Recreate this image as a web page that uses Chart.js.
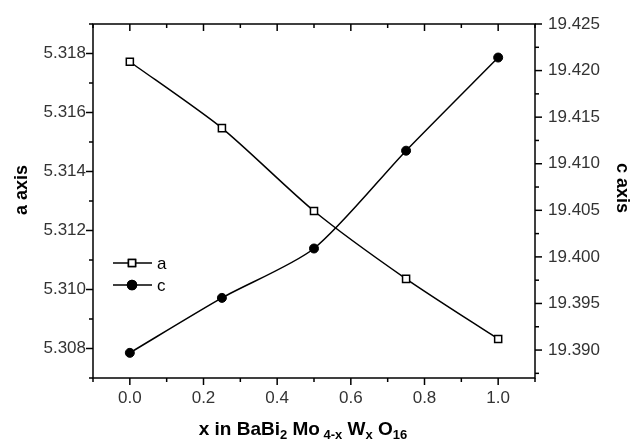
<!DOCTYPE html>
<html>
<head>
<meta charset="utf-8">
<script src="https://cdn.jsdelivr.net/npm/chart.js@4.4.0/dist/chart.umd.min.js"></script>
<style>
  html,body{margin:0;padding:0;background:#fff;}
  #wrap{width:632px;height:439px;}
</style>
</head>
<body>
<div id="wrap"><canvas id="c"></canvas></div>
<script>
// ====== Data ======
const xVals = [0, 0.25, 0.5, 0.75, 1.0];
const aVals = [5.31772, 5.31547, 5.31266, 5.31036, 5.30832];
const cVals = [19.3897, 19.3956, 19.4009, 19.4114, 19.4214];
const seriesNames = ["a", "c"];

// tick labels
const xTicks = [0.0, 0.2, 0.4, 0.6, 0.8, 1.0];
const aTicks = [5.308, 5.310, 5.312, 5.314, 5.316, 5.318];
const cTicks = [19.390, 19.395, 19.400, 19.405, 19.410, 19.415, 19.420, 19.425];

// axis ranges + tick steps (major / minor)
const xRange = [-0.1, 1.1], xMajor = 0.2, xMinor = 0.1;
const aRange = [5.307, 5.319], aMajor = 0.002, aMinor = 0.001;
const cRange = [19.387, 19.425], cMajor = 0.005, cMinor = 0.0025;

const FONT = "'Liberation Sans', Arial, sans-serif";
const tickFont = { family: FONT, size: 17 };

function pts(ys){ return xVals.map((x,i)=>({x:x, y:ys[i]})); }
function fixTicks(list){ return function(s){ s.ticks = list.map(v=>({value:v})); }; }

// ticks drawn by hand so we get minor ones too
function drawTicks(ctx, scale, major, minor, side, inward){
  const first = Math.ceil(scale.min/minor - 1e-6), last = Math.floor(scale.max/minor + 1e-6);
  const area = scale.chart.chartArea;
  for(let k=first; k<=last; k++){
    const v = k*minor;
    const isMajor = Math.abs(v/major - Math.round(v/major)) < 1e-6;
    const len = isMajor ? 7 : 4;
    const p = scale.getPixelForValue(v);
    ctx.beginPath();
    if(side==="bottom"){ ctx.moveTo(p, area.bottom); ctx.lineTo(p, area.bottom+len); }
    if(side==="top"){ ctx.moveTo(p, area.top); ctx.lineTo(p, area.top+(inward?len:-len)); }
    if(side==="left"){ ctx.moveTo(area.left, p); ctx.lineTo(area.left-len, p); }
    if(side==="right"){ ctx.moveTo(area.right, p); ctx.lineTo(area.right+len, p); }
    ctx.stroke();
  }
}

const framePlugin = {
  id: "frame",
  afterDraw(chart){
    const ctx = chart.ctx, a = chart.chartArea, s = chart.scales;
    ctx.save();
    ctx.strokeStyle = "#000"; ctx.lineWidth = 1.5;
    ctx.strokeRect(a.left, a.top, a.right-a.left, a.bottom-a.top);
    drawTicks(ctx, s.x, xMajor, xMinor, "bottom");
    drawTicks(ctx, s.x, xMajor, xMinor, "top", true);
    drawTicks(ctx, s.y, aMajor, aMinor, "left");
    drawTicks(ctx, s.y2, cMajor, cMinor, "right");

    // axis titles
    ctx.fillStyle = "#000";
    ctx.textAlign = "center"; ctx.textBaseline = "middle";
    ctx.font = "bold 18px " + FONT;
    ctx.save(); ctx.translate(22, 190); ctx.rotate(-Math.PI/2); ctx.fillText("a axis", 0, 0); ctx.restore();
    ctx.save(); ctx.translate(622, 188); ctx.rotate(Math.PI/2); ctx.fillText("c axis", 0, 0); ctx.restore();

    // x title with subscripts
    const parts = [["x in BaBi",0],["2",1],[" Mo",0],[" 4-x",1],[" W",0],["x",1],[" O",0],["16",1]];
    const big = "bold 19px " + FONT, small = "bold 13px " + FONT;
    let w = 0;
    parts.forEach(p=>{ ctx.font = p[1]?small:big; w += ctx.measureText(p[0]).width; });
    let x = 303 - w/2;
    ctx.textAlign = "left"; ctx.textBaseline = "alphabetic";
    parts.forEach(p=>{
      ctx.font = p[1]?small:big;
      ctx.fillText(p[0], x, p[1] ? 439 : 435);
      x += ctx.measureText(p[0]).width;
    });

    // legend
    ctx.font = "17px " + FONT; ctx.textBaseline = "middle";
    chart.data.datasets.forEach((d,i)=>{
      const y = 263 + i*22;
      ctx.lineWidth = 1.5;
      ctx.beginPath(); ctx.moveTo(113, y); ctx.lineTo(152, y); ctx.stroke();
      Chart.helpers.drawPoint(ctx, { pointStyle: d.pointStyle, radius: d.pointRadius, borderWidth: 1.5 }, 132, y);
      if(d.pointBackgroundColor==="#000") ctx.fill(); else { ctx.fillStyle="#fff"; ctx.fill(); }
      ctx.stroke();
      ctx.fillStyle = "#000";
      ctx.fillText(d.label, 157, y+1);
    });
    ctx.restore();
  }
};

const gridOpts = { display:true, drawOnChartArea:false, drawTicks:true, tickLength:6, color:"transparent" };

new Chart(document.getElementById("c"), {
  type: "line",
  data: {
    datasets: [
      { label: seriesNames[0], data: pts(aVals), yAxisID: "y",
        borderColor:"#000", borderWidth:1.5, pointStyle:"rect", pointRadius:5,
        pointBackgroundColor:"#fff", pointBorderColor:"#000", pointBorderWidth:1.5,
        tension:0.25 },
      { label: seriesNames[1], data: pts(cVals), yAxisID: "y2",
        borderColor:"#000", borderWidth:1.5, pointStyle:"circle", pointRadius:4.5,
        pointBackgroundColor:"#000", pointBorderColor:"#000", pointBorderWidth:1,
        tension:0.25 }
    ]
  },
  options: {
    responsive: true, maintainAspectRatio: false, animation: false,
    layout: { padding: { top: 24, left: 0, right: 0, bottom: 0 } },
    plugins: { legend: { display:false }, tooltip: { enabled:false } },
    scales: {
      x: { type:"linear", min:xRange[0], max:xRange[1],
        afterBuildTicks: fixTicks(xTicks),
        ticks:{ font:tickFont, color:"#333", padding:4,
          callback:v=>v.toFixed(1) },
        grid: gridOpts, border:{display:false},
        afterFit(s){ s.height = 61; } },
      y: { position:"left", min:aRange[0], max:aRange[1],
        afterBuildTicks: fixTicks(aTicks),
        ticks:{ font:tickFont, color:"#333", padding:1,
          callback:v=>v.toFixed(3) },
        grid: gridOpts, border:{display:false},
        afterFit(s){ s.width = 93; } },
      y2: { position:"right", min:cRange[0], max:cRange[1],
        afterBuildTicks: fixTicks(cTicks),
        ticks:{ font:tickFont, color:"#333", padding:7,
          callback:v=>v.toFixed(3) },
        grid: gridOpts, border:{display:false},
        afterFit(s){ s.width = 97; } }
    }
  },
  plugins: [framePlugin]
});
</script>
</body>
</html>
